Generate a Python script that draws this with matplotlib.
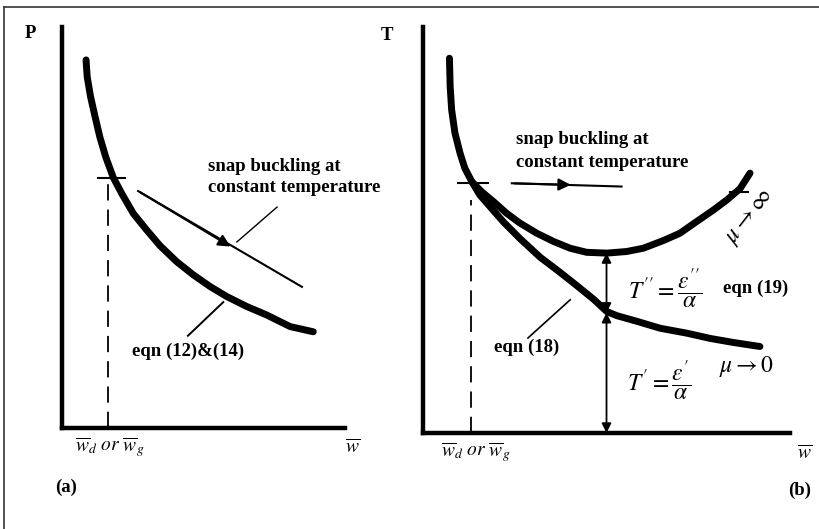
import matplotlib.pyplot as plt
from matplotlib.lines import Line2D

plt.rcParams['font.family'] = ['Liberation Serif', 'DejaVu Serif']
plt.rcParams['mathtext.fontset'] = 'stix'

# panel (a): P vs w, eqn (12)&(14)
curve_a_x = [0.85, 0.89, 1.01, 1.17, 1.34, 1.55, 1.81, 2.11, 2.52, 2.99,
             3.46, 4.05, 4.64, 5.23, 5.82, 6.53, 7.23, 8.06, 8.88]
curve_a_y = [9.18, 8.76, 8.26, 7.76, 7.25, 6.75, 6.25, 5.85, 5.35, 4.94,
             4.55, 4.15, 3.82, 3.53, 3.28, 3.03, 2.82, 2.53, 2.40]
wd_a = 1.63
snap_a_x = [2.69, 8.48]
snap_a_y = [5.91, 3.52]

# panel (b): T vs w, eqn (18) (mu -> 0) and eqn (19) (mu -> inf)
curve_low_x = [0.72, 0.74, 0.78, 0.87, 1.01, 1.14, 1.33, 1.55, 1.83, 2.19, 2.64, 3.19,
               3.73, 4.19, 4.64, 5.01, 5.28, 5.83, 6.46, 7.18, 7.82, 8.45, 9.18]
curve_low_y = [9.23, 8.53, 7.96, 7.39, 6.89, 6.52, 6.19, 5.86, 5.57, 5.20, 4.79, 4.33,
               3.96, 3.63, 3.30, 2.99, 2.89, 2.75, 2.58, 2.46, 2.33, 2.23, 2.13]
curve_up_x = [1.33, 1.60, 1.92, 2.28, 2.64, 3.10, 3.55, 4.01, 4.46, 5.01,
              5.55, 6.00, 6.55, 7.00, 7.46, 7.91, 8.28, 8.64, 8.91]
curve_up_y = [6.19, 5.94, 5.70, 5.41, 5.17, 4.92, 4.72, 4.55, 4.45, 4.43,
              4.47, 4.55, 4.74, 4.92, 5.21, 5.49, 5.74, 6.02, 6.40]
wd_b = 1.30
w_mid = 5.0
t_low, t_up = 2.96, 4.43
snap_b_x = [2.42, 5.41]
snap_b_y = [6.15, 6.07]

fig = plt.figure(figsize=(8.19, 5.29), dpi=100)

# scan frame (left and top)
fig.add_artist(Line2D([0.005, 0.005], [0.0, 0.987], color='#333333', lw=1.2))
fig.add_artist(Line2D([0.005, 1.0], [0.987, 0.987], color='#333333', lw=1.2))

ax1 = fig.add_axes([0.0757, 0.1909, 0.3455, 0.758])
ax2 = fig.add_axes([0.5165, 0.1815, 0.4481, 0.7675])

for ax in (ax1, ax2):
    ax.set_xlim(0, 10)
    ax.set_ylim(0, 10)
    ax.spines[['top', 'right']].set_visible(False)
    ax.spines[['left', 'bottom']].set_linewidth(3.2)
    ax.set_xticks([])
    ax.set_yticks([])
    ax.patch.set_alpha(0)

tfont = dict(fontsize=13.5, fontweight='bold')
mfont = dict(fontsize=14)
ffont = dict(fontsize=17)

# ---- panel (a)
ax1.plot(curve_a_x, curve_a_y, color='black', lw=5, solid_capstyle='round')
ax1.plot([wd_a, wd_a], [0, 6.1], color='black', lw=1.3, ls=(0, (9, 5)))
ax1.plot([1.27, 2.23], [6.23, 6.23], color='black', lw=1.5)
ax1.plot(snap_a_x, snap_a_y, color='black', lw=1.5)
ax1.annotate('', xy=(6.04, 4.49), xytext=(snap_a_x[0], snap_a_y[0]),
             arrowprops=dict(arrowstyle='-|>', color='black', lw=1.5, mutation_scale=18))
ax1.plot([7.6, 6.18], [5.51, 4.64], color='black', lw=1.0)
ax1.plot([5.7, 4.45], [3.14, 2.3], color='black', lw=1.4)
ax1.text(5.16, 6.51, 'snap buckling at', ha='left', va='center', **tfont)
ax1.text(5.16, 5.99, 'constant temperature', ha='left', va='center', **tfont)
ax1.text(4.45, 1.92, 'eqn (12)&(14)', ha='center', va='center', **tfont)
ax1.text(1.70, -0.47, r'$\overline{w}_d\ or\ \overline{w}_g$', ha='center', va='center',
         clip_on=False, **mfont)
ax1.text(10.28, -0.47, r'$\overline{w}$', ha='center', va='center', clip_on=False, **mfont)
ax1.text(-1.13, 9.85, 'P', ha='center', va='center', clip_on=False, **tfont)
ax1.text(0.15, -1.47, '(a)', ha='center', va='center', clip_on=False, **tfont)

# ---- panel (b)
ax2.plot(curve_low_x, curve_low_y, color='black', lw=5, solid_capstyle='round')
ax2.plot(curve_up_x, curve_up_y, color='black', lw=5, solid_capstyle='round')
ax2.plot([wd_b, wd_b], [0, 5.74], color='black', lw=1.3, ls=(0, (9, 5)))
ax2.plot([0.95, 1.77], [6.16, 6.16], color='black', lw=1.5)
ax2.plot([8.37, 8.86], [5.94, 5.94], color='black', lw=1.5)
ax2.plot(snap_b_x, snap_b_y, color='black', lw=1.5)
ax2.annotate('', xy=(4.1, 6.11), xytext=(snap_b_x[0], snap_b_y[0]),
             arrowprops=dict(arrowstyle='-|>', color='black', lw=1.5, mutation_scale=18))
ax2.annotate('', xy=(w_mid, t_up), xytext=(w_mid, t_low),
             arrowprops=dict(arrowstyle='<|-|>', color='black', lw=1.3, mutation_scale=14,
                             shrinkA=0, shrinkB=0))
ax2.annotate('', xy=(w_mid, t_low), xytext=(w_mid, 0),
             arrowprops=dict(arrowstyle='<|-|>', color='black', lw=1.3, mutation_scale=14,
                             shrinkA=0, shrinkB=0))
ax2.plot([4.01, 2.86], [3.28, 2.34], color='black', lw=1.2)
ax2.text(2.53, 7.22, 'snap buckling at', ha='left', va='center', **tfont)
ax2.text(2.53, 6.67, 'constant temperature', ha='left', va='center', **tfont)
ax2.text(6.59, 3.57, r"$T'' = \dfrac{\varepsilon''}{\alpha}$", ha='center', va='center', **ffont)
ax2.text(9.05, 3.57, 'eqn (19)', ha='center', va='center', **tfont)
ax2.text(6.43, 1.31, r"$T' = \dfrac{\varepsilon'}{\alpha}$", ha='center', va='center', **ffont)
ax2.text(8.83, 1.63, r'$\mu \rightarrow 0$', ha='center', va='center', **ffont)
ax2.text(8.91, 5.32, r'$\mu \rightarrow \infty$', ha='center', va='center', rotation=52,
         clip_on=False, **ffont)
ax2.text(2.81, 2.12, 'eqn (18)', ha='center', va='center', **tfont)
ax2.text(1.44, -0.47, r'$\overline{w}_d\ or\ \overline{w}_g$', ha='center', va='center',
         clip_on=False, **mfont)
ax2.text(10.4, -0.49, r'$\overline{w}$', ha='center', va='center', clip_on=False, **mfont)
ax2.text(-0.98, 9.80, 'T', ha='center', va='center', clip_on=False, **tfont)
ax2.text(10.27, -1.41, '(b)', ha='center', va='center', clip_on=False, **tfont)

fig.savefig('out.png', dpi=100)
